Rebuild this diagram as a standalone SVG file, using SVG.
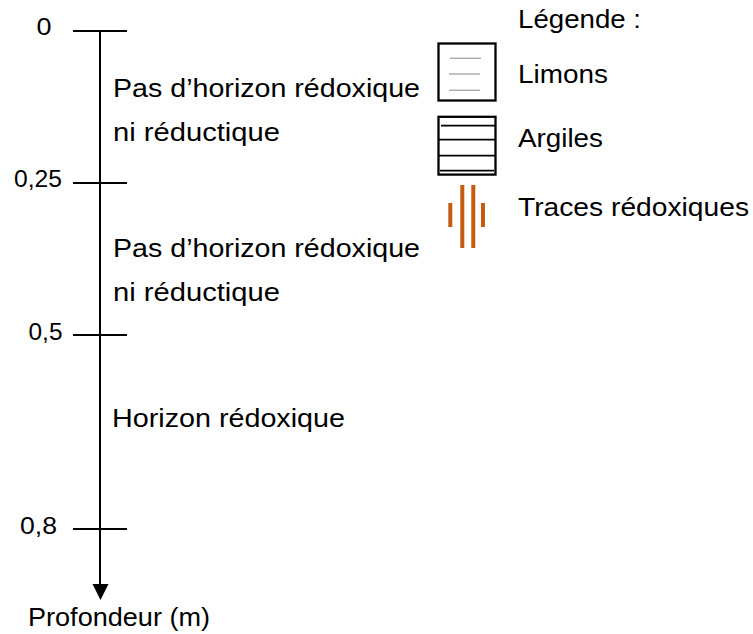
<svg xmlns="http://www.w3.org/2000/svg" width="753" height="634" viewBox="0 0 753 634">
<style>
  text { font-family: "Liberation Sans", Arial, sans-serif; fill: #000; }
  .lbl { font-size: 26px; }
  .num { font-size: 24px; }
  .ax { stroke: #000; stroke-width: 2; fill: none; }
  .box { stroke: #000; stroke-width: 2.3; fill: #fff; }
  .silt { stroke: #aaaaaa; stroke-width: 1.4; }
  .clay { stroke: #000; stroke-width: 1.8; }
  .trace { fill: #C55A11; }
</style>
<rect width="753" height="634" fill="#fff"/>
<g id="connectors">
  <line class="ax" x1="100" y1="31" x2="100" y2="586"/>
  <polygon points="92.5,584 108.5,584 100.5,600" fill="#000"/>
  <line class="ax" x1="73" y1="31" x2="127" y2="31"/>
  <line class="ax" x1="73" y1="183" x2="127" y2="183"/>
  <line class="ax" x1="73" y1="335" x2="127" y2="335"/>
  <line class="ax" x1="73" y1="529" x2="127" y2="529"/>
</g>
<g id="scale">
  <text class="num" x="36.5" y="35" textLength="15" lengthAdjust="spacingAndGlyphs">0</text>
  <text class="num" x="14" y="187" textLength="48" lengthAdjust="spacingAndGlyphs">0,25</text>
  <text class="num" x="28.5" y="339.5" textLength="34" lengthAdjust="spacingAndGlyphs">0,5</text>
  <text class="num" x="20" y="533.5" textLength="37" lengthAdjust="spacingAndGlyphs">0,8</text>
  <text class="lbl" x="28" y="626" textLength="182" lengthAdjust="spacingAndGlyphs">Profondeur (m)</text>
</g>
<g id="layer1">
  <text class="lbl" x="113" y="96.5" textLength="307" lengthAdjust="spacingAndGlyphs">Pas d’horizon rédoxique</text>
  <text class="lbl" x="113" y="140.5" textLength="167" lengthAdjust="spacingAndGlyphs">ni réductique</text>
</g>
<g id="layer2">
  <text class="lbl" x="113" y="256.5" textLength="307" lengthAdjust="spacingAndGlyphs">Pas d’horizon rédoxique</text>
  <text class="lbl" x="113" y="300.5" textLength="167" lengthAdjust="spacingAndGlyphs">ni réductique</text>
</g>
<g id="layer3">
  <text class="lbl" x="112" y="426.5" textLength="233" lengthAdjust="spacingAndGlyphs">Horizon rédoxique</text>
</g>
<g id="legend">
  <text class="lbl" x="518" y="27.5" textLength="123" lengthAdjust="spacingAndGlyphs">Légende :</text>
  <g id="legend-limons">
    <rect class="box" x="438.5" y="43.5" width="57" height="57"/>
    <line class="silt" x1="450" y1="58.3" x2="481" y2="58.3"/>
    <line class="silt" x1="449" y1="74" x2="480" y2="74"/>
    <line class="silt" x1="449" y1="90.3" x2="480" y2="90.3"/>
    <text class="lbl" x="518" y="83.3" textLength="90" lengthAdjust="spacingAndGlyphs">Limons</text>
  </g>
  <g id="legend-argiles">
    <rect class="box" x="438.5" y="116.8" width="57" height="57.8"/>
    <line class="clay" x1="441" y1="125.7" x2="495" y2="125.7"/>
    <line class="clay" x1="438.5" y1="139.7" x2="495.5" y2="139.7"/>
    <line class="clay" x1="438.5" y1="155.7" x2="495.5" y2="155.7"/>
    <line class="clay" x1="440" y1="170.7" x2="494" y2="170.7"/>
    <text class="lbl" x="518" y="146.5" textLength="85" lengthAdjust="spacingAndGlyphs">Argiles</text>
  </g>
  <g id="legend-traces">
    <rect class="trace" x="448.3" y="203" width="4" height="24"/>
    <rect class="trace" x="460.3" y="185" width="4" height="63"/>
    <rect class="trace" x="471.3" y="185" width="4" height="63"/>
    <rect class="trace" x="481" y="203" width="4" height="24"/>
    <text class="lbl" x="518" y="215.7" textLength="231" lengthAdjust="spacingAndGlyphs">Traces rédoxiques</text>
  </g>
</g>
</svg>
